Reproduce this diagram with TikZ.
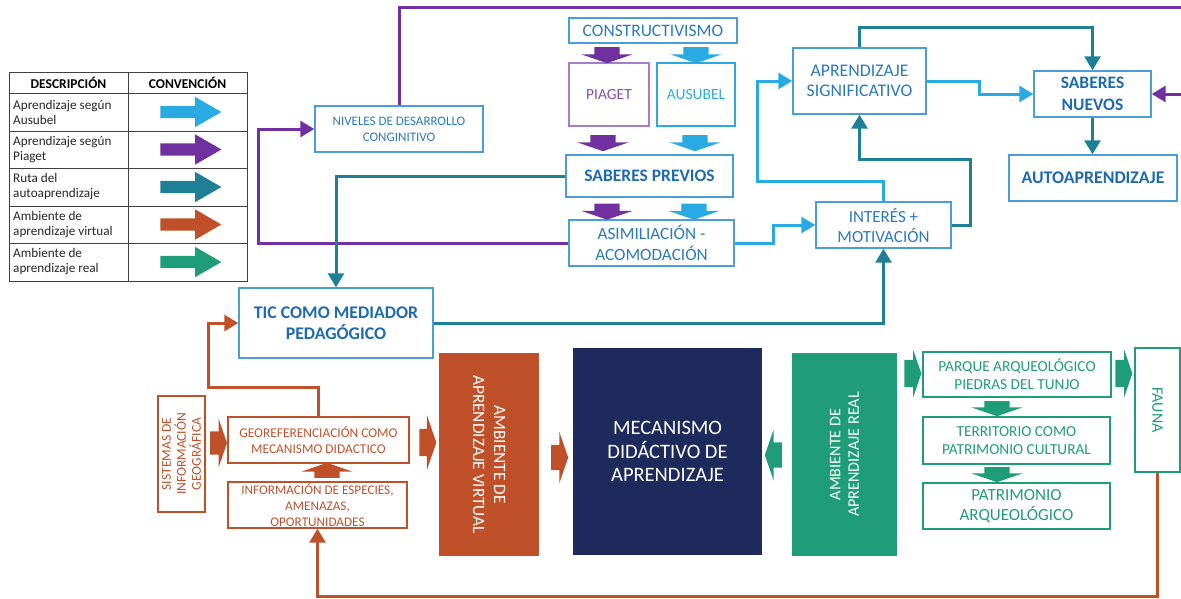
\documentclass[tikz,border=0pt]{standalone}
\usepackage{fontspec}
\setmainfont{Carlito}
\usetikzlibrary{
arrows.meta,
positioning,
calc,
shapes.arrows
}
\usepackage{xcolor}

\definecolor{ausubel}{HTML}{2AAAE2}
\definecolor{piaget}{HTML}{7030A0}
\definecolor{piagetbox}{HTML}{A57DCB}
\definecolor{piagettext}{HTML}{8350B3}
\definecolor{ruta}{HTML}{1F7F96}
\definecolor{virtual}{HTML}{C0502A}
\definecolor{real}{HTML}{1F9D78}
\definecolor{navy}{HTML}{1F2A5C}
\definecolor{boxline}{HTML}{4A9ED8}
\definecolor{boxtext}{HTML}{2A79BF}
\definecolor{boldtext}{HTML}{1E6AAE}

\newcommand{\fsz}[2]{\fontsize{#1}{#2}\selectfont}

\begin{document}
\begin{tikzpicture}[x=1pt, y=-1pt,
    box/.style={draw=boxline, line width=1.4pt, text=boxtext, align=center, inner sep=0pt},
    obox/.style={draw=virtual, line width=1.4pt, text=virtual, align=center, inner sep=0pt},
    gbox/.style={draw=real, line width=1.4pt, text=real, align=center, inner sep=0pt},
    blk/.style={single arrow, draw=none, inner xsep=0pt, inner ysep=12.5pt, minimum height=17pt,
                single arrow head extend=13pt, single arrow tip angle=142},
    legarrow/.style={single arrow, draw=none, inner xsep=0pt, inner ysep=6pt, minimum height=61pt,
                single arrow head extend=9pt, single arrow tip angle=60},
    wire/.style={line width=3pt, -{Triangle[length=14pt, width=16pt]}},
    tableline/.style={draw=black!75, line width=0.9pt}]

    \useasboundingbox (0,0) rectangle (1181,598);

    % ==================== LEGEND ====================
    \draw[tableline] (9,72) rectangle (247,281);
    \draw[tableline] (128,72) -- (128,281);
    \foreach \yy in {93,131,168,206,243}
        \draw[tableline] (9,\yy) -- (247,\yy);

    \node[font=\bfseries\fsz{13.5}{15}] (hdesc) at (68.5,82.5) {DESCRIPCIÓN};
    \node[font=\bfseries\fsz{13.5}{15}] (hconv) at (187.5,82.5) {CONVENCIÓN};

    \foreach \yy/\col/\txt [count=\i] in {
        112/ausubel/{Aprendizaje según\\Ausubel},
        149.5/piaget/{Aprendizaje según\\Piaget},
        187/ruta/{Ruta del\\autoaprendizaje},
        224.5/virtual/{Ambiente de\\aprendizaje virtual},
        262/real/{Ambiente de\\aprendizaje real}}{
        \node[anchor=west, align=left, inner sep=0pt, text=black!85, font=\fsz{13.2}{15}] (leg\i) at (13,\yy) {\txt};
        \node[legarrow, fill=\col] (legarr\i) at (185.5,\yy) {};
    }

    % ==================== UPPER BOXES ====================
    \node[box, minimum width=168pt, minimum height=25pt, font=\fsz{17.5}{19}] (cons) at (653,30.5) {CONSTRUCTIVISMO};
    \node[box, draw=piagetbox, text=piagettext, minimum width=80pt, minimum height=63pt, font=\fsz{15.5}{17}] (piag) at (609,94.5) {PIAGET};
    \node[box, draw=ausubel, text=ausubel, minimum width=78pt, minimum height=63pt, font=\fsz{15.5}{17}] (ausu) at (696,94.5) {AUSUBEL};
    \node[box, text=boldtext, minimum width=167pt, minimum height=42pt, font=\bfseries\fsz{17.5}{19}] (sabprev) at (649.5,176) {SABERES PREVIOS};
    \node[box, minimum width=165pt, minimum height=46pt, font=\fsz{17.2}{21}] (asim) at (651.5,243) {ASIMILIACIÓN -\\ACOMODACIÓN};

    \node[box, minimum width=168pt, minimum height=46pt, font=\fsz{13}{16}] (niv) at (399,129) {NIVELES DE DESARROLLO\\CONGINITIVO};
    \node[box, text=boldtext, minimum width=194pt, minimum height=70pt, font=\bfseries\fsz{17.8}{21}] (tic) at (336,323) {TIC COMO MEDIADOR\\PEDAGÓGICO};

    \node[box, minimum width=135pt, minimum height=46pt, font=\fsz{17}{20}] (intmot) at (883.5,225) {INTERÉS +\\MOTIVACIÓN};
    \node[box, minimum width=133pt, minimum height=66pt, font=\fsz{17.8}{20}] (aprsig) at (859.5,81) {APRENDIZAJE\\SIGNIFICATIVO};
    \node[box, text=boldtext, minimum width=117pt, minimum height=46pt, font=\bfseries\fsz{17.5}{22}] (sabnue) at (1092.5,94) {SABERES\\NUEVOS};
    \node[box, text=boldtext, minimum width=168pt, minimum height=46pt, font=\bfseries\fsz{17.8}{19}] (autoap) at (1093,178) {AUTOAPRENDIZAJE};

    % block arrows between the constructivism boxes
    \node[blk, fill=piaget, rotate=-90, minimum height=16pt] (pa1) at (607,53) {};
    \node[blk, fill=ausubel, rotate=-90, minimum height=16pt] (aa1) at (696,53) {};
    \node[blk, fill=piaget, rotate=-90, minimum height=16pt] (pa2) at (603,141) {};
    \node[blk, fill=ausubel, rotate=-90, minimum height=16pt] (aa2) at (695,141) {};
    \node[blk, fill=piaget, rotate=-90, minimum height=16pt] (pa3) at (607,209.5) {};
    \node[blk, fill=ausubel, rotate=-90, minimum height=16pt] (aa3) at (694,209.5) {};

    % ==================== LOWER BOXES ====================
    \node[obox, minimum width=47pt, minimum height=116pt] (sig) at (181.5,454) {};
    \node[rotate=90, align=center, text=virtual, inner sep=0pt, font=\fsz{13.5}{15}] (sigtxt) at (sig) {SISTEMAS DE\\INFORMACIÓN\\GEOGRÁFICA};
    \node[obox, minimum width=181pt, minimum height=46pt, font=\fsz{13.4}{16}] (georef) at (318.5,440) {GEOREFERENCIACIÓN COMO\\MECANISMO DIDACTICO};
    \node[obox, minimum width=179pt, minimum height=46pt, font=\fsz{13.2}{16}] (info) at (317.5,505) {INFORMACIÓN DE ESPECIES,\\AMENAZAS,\\OPORTUNIDADES};

    \node[fill=virtual, minimum width=100pt, minimum height=203pt, inner sep=0pt] (virt) at (489,454.5) {};
    \node[rotate=-90, align=center, text=white, inner sep=0pt, font=\fsz{17.3}{21}] (virttxt) at (virt) {AMBIENTE DE\\APRENDIZAJE VIRTUAL};

    \node[fill=navy, text=white, align=center, minimum width=189pt, minimum height=207pt, inner sep=0pt, font=\fsz{20.5}{23.5}] (mec) at (667.5,451.5) {MECANISMO\\DIDÁCTIVO DE\\APRENDIZAJE};

    \node[fill=real, minimum width=105pt, minimum height=203pt, inner sep=0pt] (real) at (844.5,454.5) {};
    \node[rotate=90, align=center, text=white, inner sep=0pt, font=\fsz{16.1}{18.5}] (realtxt) at (real) {AMBIENTE DE\\APRENDIZAJE REAL};

    \node[gbox, minimum width=188pt, minimum height=45pt, font=\fsz{15.3}{18}] (parque) at (1017,374.5) {PARQUE ARQUEOLÓGICO\\PIEDRAS DEL TUNJO};
    \node[gbox, minimum width=187pt, minimum height=47pt, font=\fsz{15.3}{18}] (terr) at (1016.5,440.5) {TERRITORIO COMO\\PATRIMONIO CULTURAL};
    \node[gbox, minimum width=187pt, minimum height=46pt, font=\fsz{17}{20}] (patr) at (1016.5,506) {PATRIMONIO\\ARQUEOLÓGICO};
    \node[gbox, minimum width=45pt, minimum height=124pt] (fauna) at (1157.5,410) {};
    \node[rotate=-90, text=real, inner sep=0pt, font=\fsz{16}{18}] (faunatxt) at (fauna) {FAUNA};

    % block arrows of the two learning environments
    \node[blk, fill=virtual, inner ysep=11.5pt] (oa1) at (216.5,443) {};
    \node[blk, fill=virtual, rotate=90, minimum height=15pt] (oa2) at (327,472.5) {};
    \node[blk, fill=virtual, inner ysep=13.5pt, single arrow head extend=14pt] (oa3) at (425.5,442.5) {};
    \node[blk, fill=virtual] (oa4) at (557.5,457.5) {};
    \node[blk, fill=real, rotate=180] (ga1) at (775.5,455) {};
    \node[blk, fill=real, inner ysep=13.5pt, single arrow head extend=10pt] (ga2) at (910.5,373.5) {};
    \node[blk, fill=real, inner ysep=13.5pt, single arrow head extend=10pt] (ga3) at (1121.5,373.5) {};
    \node[blk, fill=real, rotate=-90, minimum height=15pt] (ga4) at (997,406.5) {};
    \node[blk, fill=real, rotate=-90, minimum height=15pt] (ga5) at (997,472.5) {};

    % ==================== CONNECTIONS ====================
    % Piaget route
    \coordinate (topright) at (1186,7);
    \draw[wire, piaget] (niv.north) |- (topright) |- (sabnue.east);
    \draw[wire, piaget] (asim.west) -- ++(-310,0) |- (niv.west);

    % self-learning route
    \draw[wire, ruta] (sabprev.west) -| (tic.north);
    \draw[wire, ruta] (tic.east) -| (intmot.south);
    \draw[wire, ruta] (intmot.east) -- ++(19,0) -- ++(0,-66) -| (aprsig.south);
    \draw[wire, ruta] (aprsig.north) -- ++(0,-20) -| (sabnue.north);
    \draw[wire, ruta] (sabnue.south) -- (sabnue.south |- autoap.north);

    % Ausubel route
    \draw[wire, ausubel] (asim.east) -- ++(39,0) |- (intmot.west);
    \draw[wire, ausubel] (intmot.north) -- ++(0,-20) -- ++(-126.5,0) |- (aprsig.west);
    \draw[wire, ausubel] (aprsig.east) -- ++(53,0) |- (sabnue.west);

    % virtual environment route
    \draw[wire, virtual] (georef.north) -- ++(0,-29) -- ++(-110.5,0) |- (tic.west);
    \draw[wire, virtual] (fauna.south) -- ++(0,124) -| (info.south);

\end{tikzpicture}
\end{document}
